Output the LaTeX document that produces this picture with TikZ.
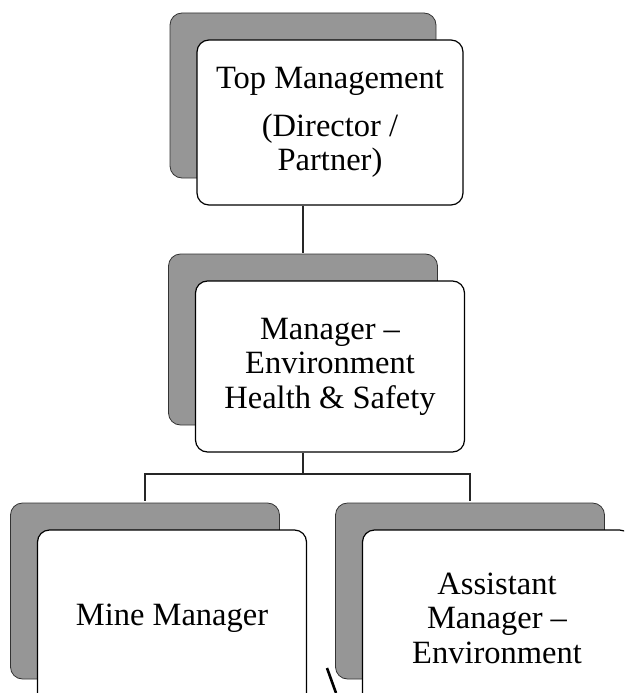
\documentclass[tikz,border=0pt]{standalone}
\usepackage{fontspec}
\setmainfont{Liberation Serif}
\usepackage{tikz}
\usetikzlibrary{shadows,positioning,calc}
\usepackage{xcolor}
\definecolor{shadegray}{RGB}{150,150,150}
\tikzstyle{post} = [rectangle, draw=black, line width=1.2pt, fill=white, rounded corners=12pt, align=center, font=\fontsize{32.5}{34.5}\selectfont, general shadow={fill=shadegray, draw=black!80, line width=0.8pt, shadow xshift=-27pt, shadow yshift=27pt}]
\tikzstyle{link} = [line width=1.8pt, color=black!85]

\begin{document}
\begin{tikzpicture}[x=1pt, y=-1pt]
    \useasboundingbox (0,0) rectangle (624,693);
    \clip (0,0) rectangle (624,693);

    \node[post, minimum width=266pt, minimum height=165pt] (top) at (330,122.5) {Top Management\\[13pt](Director /\\Partner)};
    \node[post, minimum width=269pt, minimum height=171pt] (mid) at (330,366.5) {Manager –\\Environment\\Health \& Safety};
    \node[post, minimum width=269pt, minimum height=176pt] (mine) at (172,618) {Mine Manager};
    \node[post, minimum width=269pt, minimum height=176pt] (asst) at (497,618) {Assistant\\Manager –\\Environment};

    % links join the shadow tops
    \draw[link] ($(top.south)+(-27,0)$) -- ($(mid.north)+(-27,-27)$);
    \draw[link] ($(mid.south)+(-27,0)$) -- ++(0,21) coordinate (fork);
    \draw[link] (fork) -| ($(mine.north)+(-27,-28)$);
    \draw[link] (fork) -| ($(asst.north)+(-27,-28)$);

    \coordinate (cut) at (336,693);
    \draw[line width=2.6pt] (327,668) -- (cut);
\end{tikzpicture}
\end{document}
